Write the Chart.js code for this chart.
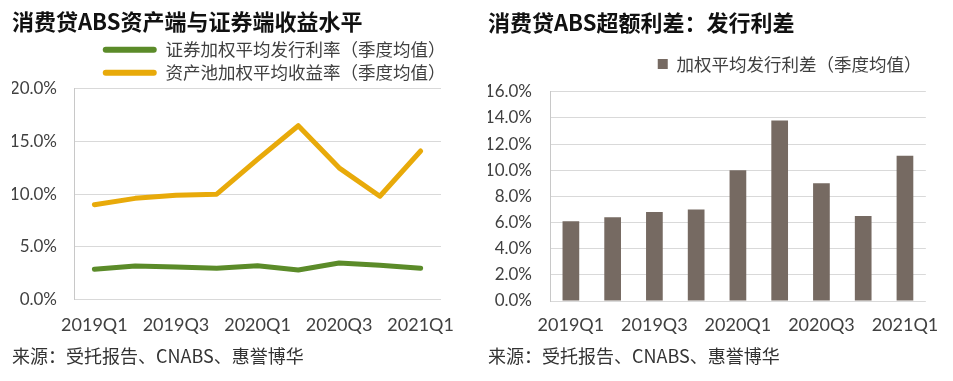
<!DOCTYPE html>
<html>
<head>
<meta charset="utf-8">
<script src="https://cdn.jsdelivr.net/npm/chart.js@4.4.1/dist/chart.umd.min.js"></script>
<style>
  body { margin: 0; background: #fff; width: 953px; height: 381px; position: relative; overflow: hidden; }
  .box { position: absolute; top: 0; }
  #left { left: 0; }
  #right { left: 474px; }
</style>
</head>
<body>
<div class="box" id="left"><canvas id="lineChart" width="470" height="381"></canvas></div>
<div class="box" id="right"><canvas id="barChart" width="479" height="381"></canvas></div>
<script>
// data (percent)
const quarters = ['2019Q1', '2019Q2', '2019Q3', '2019Q4', '2020Q1', '2020Q2', '2020Q3', '2020Q4', '2021Q1'];
const bondRate = [2.86, 3.17, 3.08, 2.95, 3.2, 2.8, 3.46, 3.24, 2.95];
const poolYield = [9.0, 9.6, 9.9, 10.0, 13.3, 16.5, 12.5, 9.8, 14.1];
const spread = [6.1, 6.4, 6.8, 7.0, 10.0, 13.8, 9.0, 6.5, 11.1];

const bondLabel = '证券加权平均发行利率（季度均值）';
const poolLabel = '资产池加权平均收益率（季度均值）';
const spreadLabel = '加权平均发行利差（季度均值）';
const source = '来源：受托报告、CNABS、惠誉博华';

const GREEN = '#5b8b29';
const YELLOW = '#e8aa0a';
const BROWN = '#766a62';
const GRID = '#d9d9d9';
const TEXT = '#404040';
const CJK = '"Noto Sans CJK SC", "Noto Sans", sans-serif';
const NUM = 'Lato, "Noto Sans", sans-serif';

// adds some room under the legend
const legendGap = {
  id: 'legendGap',
  beforeLayout(chart, args, opts) {
    const legend = chart.legend;
    if (!legend || legend._gapPatched) return;
    const fit = legend.fit;
    legend.fit = function() {
      fit.call(this);
      this.height += opts.extra || 0;
    };
    legend._gapPatched = true;
  }
};

function everyOther(v, i) {
  return i % 2 === 0 ? this.getLabelForValue(v) : '';
}

function pct(v) {
  return v.toFixed(1) + '%';
}

new Chart(document.getElementById('lineChart'), {
  type: 'line',
  data: {
    labels: quarters,
    datasets: [
      { label: bondLabel, data: bondRate, borderColor: GREEN, backgroundColor: GREEN },
      { label: poolLabel, data: poolYield, borderColor: YELLOW, backgroundColor: YELLOW }
    ]
  },
  options: {
    responsive: false,
    animation: false,
    layout: { padding: { left: 12, right: 19, top: 0, bottom: 0 } },
    elements: {
      line: { borderWidth: 5, tension: 0, borderJoinStyle: 'round', borderCapStyle: 'round' },
      point: { radius: 0 }
    },
    plugins: {
      title: {
        display: true, text: '消费贷ABS资产端与证券端收益水平', align: 'start', color: '#111',
        font: { family: CJK, size: 22, weight: 'bold' }, padding: { top: 8, bottom: 1 }
      },
      legend: {
        align: 'end',
        labels: {
          color: TEXT, font: { family: CJK, size: 17.5 }, boxWidth: 54, boxHeight: 6, padding: 5.5,
          generateLabels(chart) {
            return Chart.defaults.plugins.legend.labels.generateLabels(chart)
              .map(l => Object.assign(l, { lineWidth: 0, borderRadius: 3 }));
          }
        }
      },
      subtitle: {
        display: true, position: 'bottom', text: source, align: 'start', color: '#333',
        font: { family: CJK, size: 18 }, padding: { top: 10, bottom: 14 }
      },
      legendGap: { extra: -2.5 },
      tooltip: { enabled: false }
    },
    scales: {
      x: {
        offset: true,
        grid: { display: false, drawTicks: false },
        border: { display: false },
        ticks: { color: TEXT, font: { family: NUM, size: 18 }, padding: 15, autoSkip: false, maxRotation: 0, callback: everyOther },
        afterFit(s) { s.height = 36; }
      },
      y: {
        min: 0, max: 20,
        grid: { color: GRID, drawTicks: false },
        border: { display: true, color: '#c8c8c8' },
        ticks: { stepSize: 5, color: TEXT, font: { family: NUM, size: 17 }, padding: 17, callback: pct },
        afterFit(s) { s.width = 62; }
      }
    }
  },
  plugins: [legendGap]
});

new Chart(document.getElementById('barChart'), {
  type: 'bar',
  data: {
    labels: quarters,
    datasets: [
      { label: spreadLabel, data: spread, backgroundColor: BROWN, barPercentage: 0.4, categoryPercentage: 1 }
    ]
  },
  options: {
    responsive: false,
    animation: false,
    layout: { padding: { left: 14, right: 26, top: 0, bottom: 0 } },
    plugins: {
      title: {
        display: true, text: '消费贷ABS超额利差：发行利差', align: 'start', color: '#111',
        font: { family: CJK, size: 22, weight: 'bold' }, padding: { top: 9, bottom: 14.3 }
      },
      legend: {
        align: 'end',
        labels: { color: TEXT, font: { family: CJK, size: 17.5 }, boxWidth: 10, boxHeight: 10, padding: 5.5 }
      },
      subtitle: {
        display: true, position: 'bottom', text: source, align: 'start', color: '#333',
        font: { family: CJK, size: 18 }, padding: { top: 10, bottom: 14 }
      },
      legendGap: { extra: 9 },
      tooltip: { enabled: false }
    },
    scales: {
      x: {
        grid: { display: false, drawTicks: false },
        border: { display: false },
        ticks: { color: TEXT, font: { family: NUM, size: 18 }, padding: 13.3, autoSkip: false, maxRotation: 0, callback: everyOther },
        afterFit(s) { s.height = 34.4; }
      },
      y: {
        min: 0, max: 16,
        grid: { color: GRID, drawTicks: false },
        border: { display: true, color: '#c8c8c8' },
        ticks: { stepSize: 2, color: TEXT, font: { family: NUM, size: 17 }, padding: 18, callback: pct },
        afterFit(s) { s.width = 62; }
      }
    }
  },
  plugins: [legendGap]
});
</script>
</body>
</html>
